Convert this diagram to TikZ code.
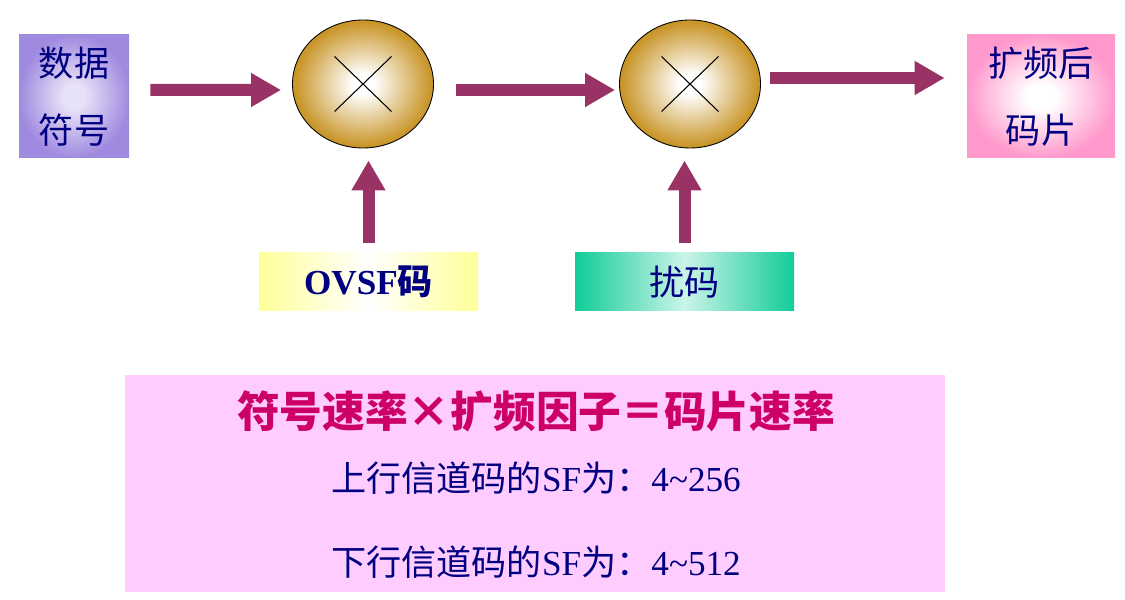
\documentclass[tikz,border=0pt]{standalone}
\usepackage{fontspec}
\setmainfont{Liberation Serif}
\newfontfamily\cjk{Noto Sans CJK SC}
\usetikzlibrary{arrows.meta,positioning,shapes.geometric}

\definecolor{navytext}{HTML}{000080}
\definecolor{arrowred}{HTML}{993366}
\definecolor{gold}{HTML}{C9962A}
\definecolor{lilac}{HTML}{A08AE0}
\definecolor{rosepink}{HTML}{FF99CC}
\definecolor{lemon}{HTML}{FFFF99}
\definecolor{seagreen}{HTML}{11CC99}
\definecolor{pinkpanel}{HTML}{FFCCFF}
\definecolor{titlered}{HTML}{CC0066}

\pgfdeclareradialshading{goldball}{\pgfpoint{0bp}{0bp}}
  {color(0bp)=(white); color(4bp)=(white); color(24bp)=(gold); color(50bp)=(gold)}
\pgfdeclareradialshading{lilacglow}{\pgfpoint{0bp}{0bp}}
  {color(0bp)=(lilac!25); color(5bp)=(lilac!25); color(25bp)=(lilac); color(50bp)=(lilac)}
\pgfdeclareradialshading{pinkglow}{\pgfpoint{0bp}{0bp}}
  {color(0bp)=(white); color(5bp)=(white); color(25bp)=(rosepink); color(50bp)=(rosepink)}

\begin{document}
\begin{tikzpicture}[
  box/.style={rectangle, inner sep=0pt, align=center, text=navytext,
              font=\fontsize{20}{38}\selectfont\cjk},
  srcbox/.style={box, minimum height=2.46cm},
  mult/.style={ellipse, draw=black, line width=0.5pt, inner sep=0pt,
               minimum width=2.82cm, minimum height=2.56cm, shading=goldball},
  codebox/.style={box, minimum width=4.38cm, minimum height=1.16cm},
  arrow/.style={-{Triangle[length=0.6cm, width=0.64cm]},
                line width=0.24cm, draw=arrowred},
  cross/.style={line width=0.6pt},
]
\useasboundingbox (0,0) rectangle (22.5,11.98);

% --- Main chain ---
\node[srcbox, minimum width=2.2cm, shading=lilacglow]
  (data) at (1.48,10.05) {数据\\符号};
\node[mult] (mulA) at (7.26,10.30) {};
\node[mult] (mulB) at (13.80,10.30) {};
\node[srcbox, minimum width=2.96cm, shading=pinkglow]
  (chip) at (20.82,10.05) {扩频后\\码片};

% --- Multiplier crosses ---
\draw[cross] ([shift={(-0.57,-0.55)}]mulA.center) -- ([shift={(0.57,0.55)}]mulA.center);
\draw[cross] ([shift={(-0.57,0.55)}]mulA.center) -- ([shift={(0.57,-0.55)}]mulA.center);
\draw[cross] ([shift={(-0.57,-0.55)}]mulB.center) -- ([shift={(0.57,0.55)}]mulB.center);
\draw[cross] ([shift={(-0.57,0.55)}]mulB.center) -- ([shift={(0.57,-0.55)}]mulB.center);

% --- Code inputs ---
\node[codebox, left color=lemon, right color=lemon, middle color=white]
  (ovsf) at (7.37,6.34) {\bfseries\rmfamily OVSF\cjk 码};
\node[codebox, left color=seagreen, right color=seagreen, middle color=seagreen!22]
  (scram) at (13.69,6.34) {扰码};

% --- Arrows ---
\draw[arrow] ([xshift=0.42cm,yshift=0.13cm]data.east)
  -- ([xshift=-0.22cm,yshift=-0.12cm]mulA.west);
\draw[arrow] ([xshift=0.44cm,yshift=-0.12cm]mulA.east)
  -- ([xshift=-0.08cm,yshift=-0.12cm]mulB.west);
\draw[arrow] ([xshift=0.18cm,yshift=0.12cm]mulB.east)
  -- ([xshift=-0.44cm,yshift=0.37cm]chip.west);
\draw[arrow, shorten >=0.24cm] ([yshift=0.2cm]ovsf.north) -- (ovsf.north |- mulA.south);
\draw[arrow, shorten >=0.24cm] ([yshift=0.2cm]scram.north) -- (scram.north |- mulB.south);

% --- Rate panel ---
\node[rectangle, fill=pinkpanel, minimum width=16.4cm, minimum height=4.34cm]
  (panel) at (10.7,2.31) {};
\node[font=\fontsize{24.3}{30}\selectfont\cjk\bfseries, text=titlered]
  (rate) at (10.72,3.76) {符号速率×扩频因子＝码片速率};
\node[box] (up) at (10.72,2.42)
  {上行信道码的{\rmfamily SF}为：{\rmfamily 4\textasciitilde256}};
\node[box] (down) at (10.72,0.74)
  {下行信道码的{\rmfamily SF}为：{\rmfamily 4\textasciitilde512}};
\end{tikzpicture}
\end{document}
